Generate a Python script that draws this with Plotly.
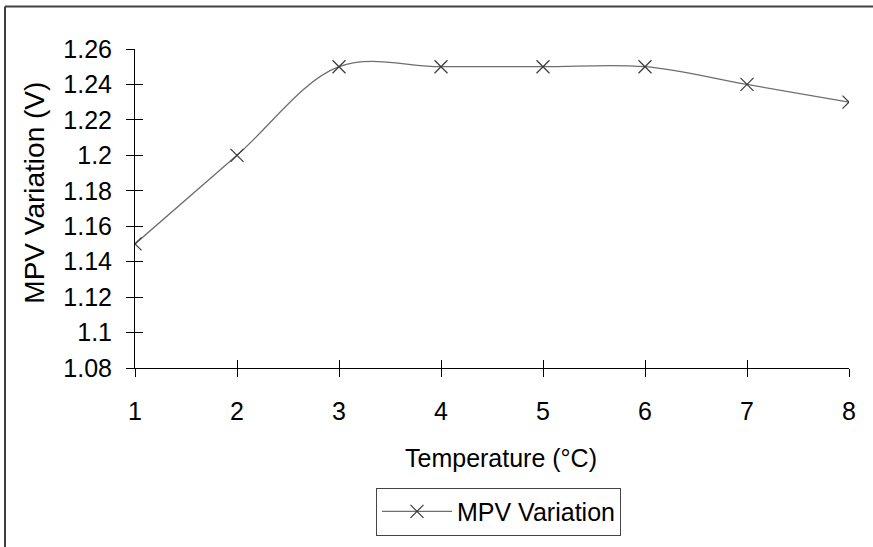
import plotly.graph_objects as go

temperature = [1, 2, 3, 4, 5, 6, 7, 8]
mpv_variation = [1.15, 1.20, 1.25, 1.25, 1.25, 1.25, 1.24, 1.23]
y_tick_vals = [1.08, 1.10, 1.12, 1.14, 1.16, 1.18, 1.20, 1.22, 1.24, 1.26]
y_tick_text = ["1.08", "1.1", "1.12", "1.14", "1.16", "1.18", "1.2", "1.22", "1.24", "1.26"]
series_name = "MPV Variation"
x_title = "Temperature (°C)"
y_title = "MPV Variation (V)"

FONT = "Liberation Sans, Arial, sans-serif"
W, H = 873, 547
ML, MR, MT, MB = 135, 24, 49, 176
PW, PH = W - ML - MR, H - MT - MB


def px_x(p):
    return (p - ML) / PW


def px_y(p):
    return (MT + PH - p) / PH


fig = go.Figure()
fig.add_trace(go.Scatter(
    x=temperature, y=mpv_variation, name=series_name,
    mode="lines+markers",
    line=dict(color="#6e6e6e", width=1.3, shape="spline", smoothing=1.0),
    marker=dict(symbol="x-thin", size=13, line=dict(color="#3a3a3a", width=1.2)),
))
# invisible trace on overlay axes so the inside half of the crossing ticks render
fig.add_trace(go.Scatter(x=temperature, y=mpv_variation, xaxis="x2", yaxis="y2",
                         mode="none", showlegend=False, hoverinfo="skip"))

tick_common = dict(showgrid=False, zeroline=False, tickcolor="black", tickwidth=1, ticklen=8)

border = dict(color="#404040", width=2)

fig.update_layout(
    width=W, height=H,
    margin=dict(l=ML, r=MR, t=MT, b=MB),
    paper_bgcolor="white", plot_bgcolor="white",
    font=dict(family=FONT, size=25, color="black"),
    xaxis=dict(range=[1, 8], tickvals=temperature, ticktext=[str(t) for t in temperature],
               ticks="outside", showline=True, linecolor="black", linewidth=1,
               ticklabelstandoff=13, **tick_common),
    yaxis=dict(range=[1.08, 1.26], tickvals=y_tick_vals, ticktext=y_tick_text,
               ticks="outside", showline=True, linecolor="black", linewidth=1,
               ticklabelstandoff=9, **tick_common),
    xaxis2=dict(range=[1, 8], tickvals=temperature, overlaying="x", anchor="y2",
                ticks="inside", showticklabels=False, showline=False, side="bottom",
                **tick_common),
    yaxis2=dict(range=[1.08, 1.26], tickvals=y_tick_vals, overlaying="y", anchor="x2",
                ticks="inside", showticklabels=False, showline=False, side="left",
                **tick_common),
    annotations=[
        dict(text=x_title, xref="paper", yref="paper", x=px_x(501), y=px_y(462),
             xanchor="center", yanchor="middle", showarrow=False, font=dict(size=25)),
        dict(text=y_title, xref="paper", yref="paper", x=px_x(35), y=px_y(194),
             xanchor="center", yanchor="middle", showarrow=False, textangle=-90,
             font=dict(size=28)),
    ],
    showlegend=True,
    legend=dict(x=px_x(498.5), xanchor="center", y=px_y(516), yanchor="middle",
                bordercolor="#444444", borderwidth=1, bgcolor="white",
                font=dict(size=25), itemwidth=70, tracegroupgap=0),
    shapes=[
        dict(type="line", xref="paper", yref="paper",
             x0=px_x(5), x1=px_x(W + 20), y0=px_y(6), y1=px_y(6), line=border, layer="below"),
        dict(type="line", xref="paper", yref="paper",
             x0=px_x(5), x1=px_x(5), y0=px_y(6), y1=px_y(H + 20), line=border, layer="below"),
    ],
)

fig.write_html("out.html", config={"displayModeBar": False},
               post_script="document.body.style.margin='0';document.body.style.overflow='hidden';")
